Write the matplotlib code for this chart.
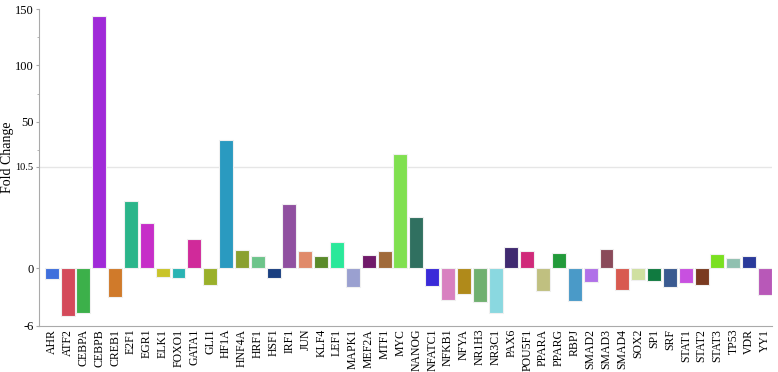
import numpy as np
import matplotlib
matplotlib.use("Agg")
import matplotlib.pyplot as plt

genes = ["AHR", "ATF2", "CEBPA", "CEBPB", "CREB1", "E2F1", "EGR1", "ELK1", "FOXO1", "GATA1",
         "GLI1", "HF1A", "HNF4A", "HRF1", "HSF1", "IRF1", "JUN", "KLF4", "LEF1", "MAPK1",
         "MEF2A", "MTF1", "MYC", "NANOG", "NFATC1", "NFKB1", "NFYA", "NR1H3", "NR3C1", "PAX6",
         "POU5F1", "PPARA", "PPARG", "RBPJ", "SMAD2", "SMAD3", "SMAD4", "SOX2", "SP1", "SRF",
         "STAT1", "STAT2", "STAT3", "TP53", "VDR", "YY1"]
fold_change = [-1.14, -5.0, -4.65, 143.5, -2.96, 6.9, 4.7, -0.97, -1.03, 3.0,
               -1.76, 33.8, 1.9, 1.27, -1.03, 6.6, 1.78, 1.24, 2.67, -2.0,
               1.34, 1.76, 21.6, 5.24, -1.86, -3.34, -2.72, -3.55, -4.69, 2.17,
               1.72, -2.34, 1.55, -3.38, -1.41, 1.96, -2.24, -1.2, -1.34, -2.0,
               -1.55, -1.79, 1.45, 1.03, 1.24, -2.83]
colors = ["#3f6fdc", "#d44a5a", "#3cb04a", "#a02ad8", "#d07a2a", "#2bb58a", "#c62ec8", "#c9c42a", "#2ab3b3", "#d02a9a",
          "#9ab02a", "#2a9ac0", "#8aa030", "#6cc48a", "#1a3f80", "#9050a0", "#e08a6a", "#5a8a2a", "#2ae89a", "#9aa0d0",
          "#701a6a", "#a06a3a", "#80e050", "#307060", "#3a2ad8", "#d880c0", "#b08a1a", "#70b070", "#8ad8e0", "#402a70",
          "#d02a7a", "#c0c080", "#229a3a", "#4a9ac8", "#b070e8", "#8a4a5a", "#d85a50", "#d0e0a0", "#107a40", "#3a5a90",
          "#c850e0", "#7a3a20", "#7ae020", "#90c0b0", "#2a3a9a", "#b858b8"]
y_ticks = [-6, 0, 10.5, 50, 100, 150]
y_tick_labels = ["-6", "0", "10.5", "50", "100", "150"]
y_minor = [25, 75, 125]

BREAK = 10.5
RATIO = 1.13 / 9.67  # upper segment compression

def fwd(v):
    v = np.asarray(v, dtype=float)
    return np.where(v <= BREAK, v, BREAK + (v - BREAK) * RATIO)

def inv(u):
    u = np.asarray(u, dtype=float)
    return np.where(u <= BREAK, u, BREAK + (u - BREAK) / RATIO)

plt.rcParams['font.family'] = ['Liberation Serif', 'DejaVu Serif']

fig = plt.figure(figsize=(7.78, 3.72), dpi=100)
ax = fig.add_axes([39/778, (372-326)/372, (772-39)/778, (326-9)/372])
ax.set_yscale('function', functions=(fwd, inv))

x = np.arange(len(genes))
ax.bar(x, fold_change, width=0.88, color=colors, edgecolor="#f0f0f0", linewidth=0.8, zorder=3)

ax.set_ylim(-6, 150)
ax.set_xlim(-0.8, len(genes) - 1 + 0.44)
ax.set_yticks(y_ticks)
ax.set_yticklabels(y_tick_labels)
ax.set_yticks(y_minor, minor=True)
ax.axhline(BREAK, color="#e6e6e6", linewidth=1, zorder=1)

ax.set_xticks(x)
ax.set_xticklabels(genes, rotation=90, fontsize=8.5)
ax.tick_params(axis='x', length=0, pad=2)
ax.tick_params(axis='y', which='major', length=2.5, width=0.8, color="#aaaaaa", labelsize=9, pad=1.5)
ax.tick_params(axis='y', which='minor', length=1.5, width=0.6, color="#aaaaaa")
for lbl in ax.get_yticklabels():
    if lbl.get_text() == "10.5":
        lbl.set_fontsize(7.5)

for s in ["top", "right"]:
    ax.spines[s].set_visible(False)
ax.spines["left"].set_color("#aaaaaa")
ax.spines["bottom"].set_color("#aaaaaa")
ax.spines["left"].set_linewidth(0.8)
ax.spines["bottom"].set_linewidth(0.8)

fig.text(8/778, 1 - 157/372, "Fold Change", rotation=90, fontsize=10, ha="center", va="center")

fig.savefig("out.png", dpi=100)
